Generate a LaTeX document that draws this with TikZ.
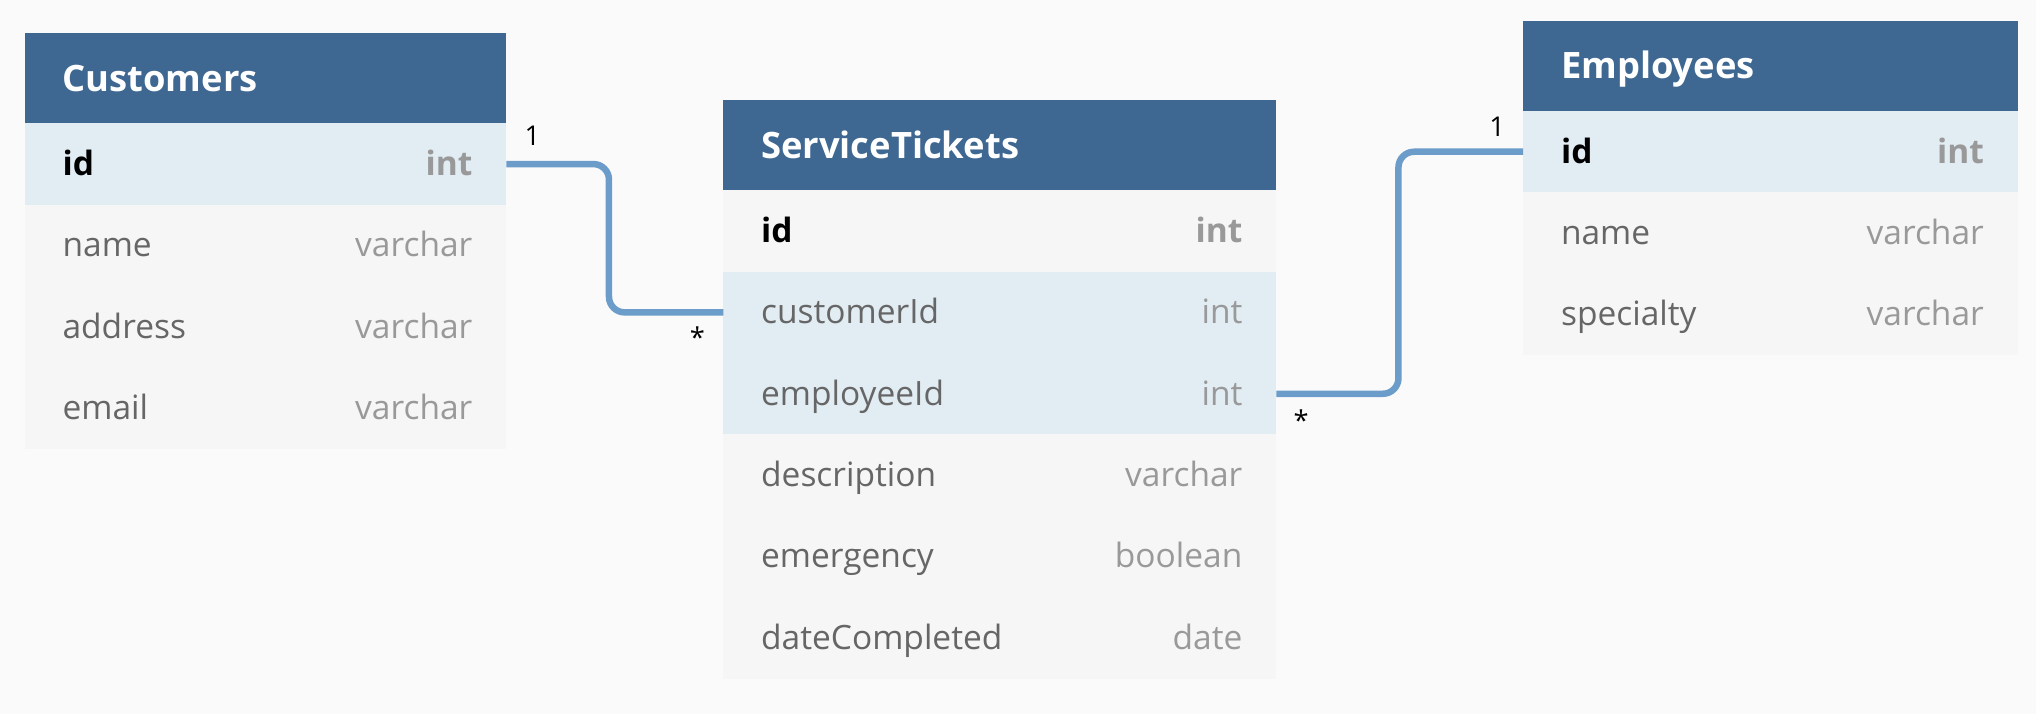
\documentclass[tikz,border=0pt]{standalone}
\usepackage{fontspec}
\setmainfont{Open Sans}
\definecolor{bg}{HTML}{FAFAFA}
\definecolor{hdr}{HTML}{3E6891}
\definecolor{hl}{HTML}{E1ECF3}
\definecolor{plain}{HTML}{F6F6F6}
\definecolor{connc}{HTML}{6C9CC9}
\definecolor{fieldc}{HTML}{666666}
\definecolor{typec}{HTML}{999999}
\tikzset{
  tbl/.style={draw=none, inner sep=0pt, outer sep=0pt, anchor=north west, minimum width=#1},
  hdrbox/.style={tbl=#1, fill=hdr, minimum height=69.5pt},
  rowbox/.style={tbl=#1, minimum height=62.7pt},
  title/.style={anchor=base west, text=white, inner sep=0pt, font=\fontsize{28}{32}\selectfont\bfseries},
  fname/.style={anchor=base west, text=fieldc, inner sep=0pt, font=\fontsize{25.8}{30}\selectfont},
  ftype/.style={anchor=base east, text=typec, inner sep=0pt, font=\fontsize{25.8}{30}\selectfont},
  link/.style={draw=connc, line width=5pt, rounded corners=12pt},
  card/.style={inner sep=0pt, text=black, font=\fontsize{21}{24}\selectfont}
}
\newcommand{\erhead}[5]{%
  \node[hdrbox=#4] (#1) at (#2,#3) {};
  \node[title] (#1-txt) at ([xshift=29pt,yshift=-10pt]#1.west) {#5};
}
\newcommand{\errow}[7]{%
  \node[rowbox=#4, fill=#5] (#1) at (#2,#3) {};
  \node[fname] (#1-n) at ([xshift=29pt,yshift=-8.7pt]#1.west) {#6};
  \node[ftype] (#1-t) at ([xshift=-26pt,yshift=-8.7pt]#1.east) {#7};
}
\begin{document}
\begin{tikzpicture}[x=1pt,y=-1pt]
\useasboundingbox (0,0) rectangle (1568,550);
\fill[bg] (0,0) rectangle (1568,550);

% Customers
\erhead{cu}{19}{25.5}{371pt}{Customers}
\errow{cu-id}{19}{95}{371pt}{hl}{{\bfseries\color{black}id}}{{\bfseries int}}
\errow{cu-name}{19}{157.7}{371pt}{plain}{name}{varchar}
\errow{cu-addr}{19}{220.4}{371pt}{plain}{address}{varchar}
\errow{cu-mail}{19}{283.1}{371pt}{plain}{email}{varchar}

% ServiceTickets
\erhead{st}{557}{77}{426pt}{ServiceTickets}
\errow{st-id}{557}{146.5}{426pt}{plain}{{\bfseries\color{black}id}}{{\bfseries int}}
\errow{st-cust}{557}{209.2}{426pt}{hl}{customerId}{int}
\errow{st-emp}{557}{271.9}{426pt}{hl}{employeeId}{int}
\errow{st-desc}{557}{334.6}{426pt}{plain}{description}{varchar}
\errow{st-emer}{557}{397.3}{426pt}{plain}{emergency}{boolean}
\errow{st-date}{557}{460}{426pt}{plain}{dateCompleted}{date}

% Employees
\erhead{em}{1173}{16}{381pt}{Employees}
\errow{em-id}{1173}{85.5}{381pt}{hl}{{\bfseries\color{black}id}}{{\bfseries int}}
\errow{em-name}{1173}{148.2}{381pt}{plain}{name}{varchar}
\errow{em-spec}{1173}{210.9}{381pt}{plain}{specialty}{varchar}

% Relations
\draw[link] (cu-id.east) -- ++(79,0) |- (st-cust.west);
\draw[link] (st-emp.east) -- ++(94,0) |- (em-id.west);
\node[card] (c1) at ([xshift=20pt,yshift=22pt]cu-id.east) {1};
\node[card] (c2) at ([xshift=-20pt,yshift=-19pt]st-cust.west) {*};
\node[card] (c3) at ([xshift=19pt,yshift=-20pt]st-emp.east) {*};
\node[card] (c4) at ([xshift=-20pt,yshift=19pt]em-id.west) {1};
\end{tikzpicture}
\end{document}
